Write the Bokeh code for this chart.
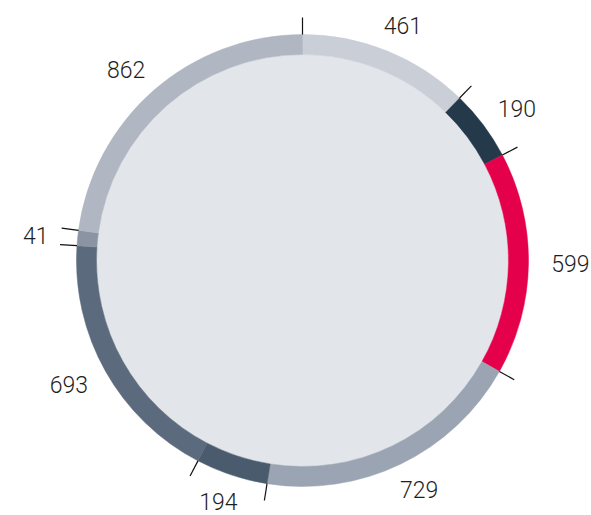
import numpy as np
from bokeh.plotting import figure
from bokeh.models import Range1d, ColumnDataSource
from bokeh.core.properties import value
from bokeh.embed import file_html
from bokeh.resources import INLINE

values = [461, 190, 599, 729, 194, 693, 41, 862]
labels = ["461", "190", "599", "729", "194", "693", "41", "862"]
colors = ["#c9ced7", "#243a4a", "#e4004b", "#9ba4b2", "#4a5b6d", "#5b6b7d", "#8a94a2", "#b0b6c2"]

R_OUT, R_IN = 226, 206
TICK_LEN = 17
LABEL_RX, LABEL_RY = 268, 254

vals = np.array(values, dtype=float)
frac = vals / vals.sum()
cum_end = np.cumsum(frac)
cum_start = cum_end - frac
start = np.pi / 2 - cum_start * 2 * np.pi
end = np.pi / 2 - cum_end * 2 * np.pi
mid = (start + end) / 2

p = figure(width=591, height=515, output_backend="svg", toolbar_location=None,
           x_range=Range1d(-302, 289), y_range=Range1d(-255, 260),
           min_border=0)
p.axis.visible = False
p.grid.visible = False
p.outline_line_color = None
p.background_fill_color = "white"
p.border_fill_color = "white"

# inner disc
p.circle(x=[0], y=[0], radius=R_IN, fill_color="#e2e5ea", line_color=None)

src = ColumnDataSource(dict(start=start, end=end, color=colors))
p.annular_wedge(x=0, y=0, inner_radius=R_IN, outer_radius=R_OUT,
                start_angle="start", end_angle="end", direction="clock",
                fill_color="color", line_color="color", line_width=0.5, source=src)

# boundary ticks
b = start
x0 = R_OUT * np.cos(b); y0 = R_OUT * np.sin(b)
x1 = (R_OUT + TICK_LEN) * np.cos(b); y1 = (R_OUT + TICK_LEN) * np.sin(b)
p.segment(x0=x0, y0=y0, x1=x1, y1=y1, line_color="#111111", line_width=1.2)

lsrc = ColumnDataSource(dict(x=LABEL_RX * np.cos(mid), y=LABEL_RY * np.sin(mid), t=labels))
p.text(x="x", y="y", text="t", source=lsrc, text_align="center", text_baseline="middle",
       text_font=value("'Roboto Light', 'Lato Light', 'Liberation Sans'"),
       text_font_size="23px", text_color="#1e1e1e")

open("out.html", "w").write(file_html(p, INLINE))
